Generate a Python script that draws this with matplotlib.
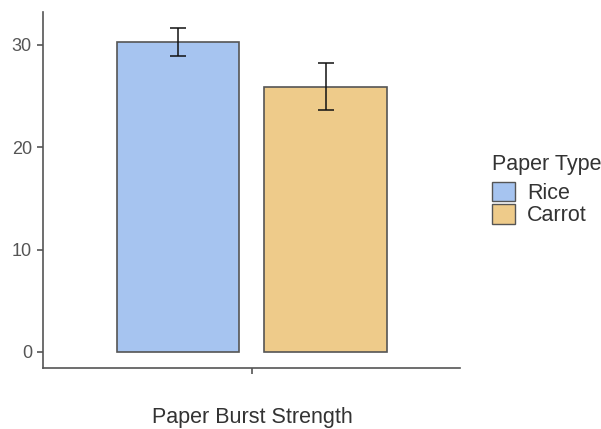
import matplotlib.pyplot as plt
from matplotlib.patches import Patch

# burst strength by paper type
paper_types = ['Rice', 'Carrot']
means = [30.3, 25.9]
errors = [1.35, 2.3]
colors = ['#a6c4f0', '#eecb8a']
y_ticks = [0, 10, 20, 30]

plt.rcParams['font.family'] = ['Liberation Sans', 'DejaVu Sans']

fig = plt.figure(figsize=(6.01, 4.29), dpi=100)
ax = fig.add_axes([43 / 601, (429 - 368) / 429, 417 / 601, 356 / 429])

# dodged bars around a single x position
offsets = [-0.5, 0.5]
ax.bar(offsets, means, width=0.83, color=colors, edgecolor='#555555', linewidth=1.2)
ax.errorbar(offsets, means, yerr=errors, fmt='none', ecolor='#111111',
            elinewidth=1.1, capsize=5.8, capthick=1.1)

ax.set_xlim(-1.415, 1.41)
ax.set_ylim(-1.57, 33.2)
ax.set_yticks(y_ticks)
ax.set_xticks([0])
ax.set_xticklabels([''])
fig.text(252 / 601, 1 - 418 / 429, 'Paper Burst Strength', fontsize=15.5,
         color='#333333', ha='center', va='center')

for s in ['top', 'right']:
    ax.spines[s].set_visible(False)
for s in ['left', 'bottom']:
    ax.spines[s].set_color('#555555')
    ax.spines[s].set_linewidth(1.2)
ax.tick_params(axis='both', colors='#555555', labelcolor='#555555', labelsize=13,
               length=4, width=1.2, pad=4)

handles = [Patch(facecolor=c, edgecolor='#555555', label=p) for p, c in zip(paper_types, colors)]
leg = fig.legend(handles=handles, title='Paper Type', loc='upper left',
                 bbox_to_anchor=(492 / 601, 1 - 154 / 429), frameon=False,
                 fontsize=15.5, title_fontsize=15.5, handlelength=1.07, handleheight=1.0,
                 handletextpad=0.55, labelspacing=0.02, borderaxespad=0, borderpad=0)
leg._legend_box.align = 'left'
leg._legend_box.sep = 5
for t in leg.get_texts():
    t.set_color('#333333')
leg.get_title().set_color('#333333')

fig.savefig('out.png', dpi=100)
